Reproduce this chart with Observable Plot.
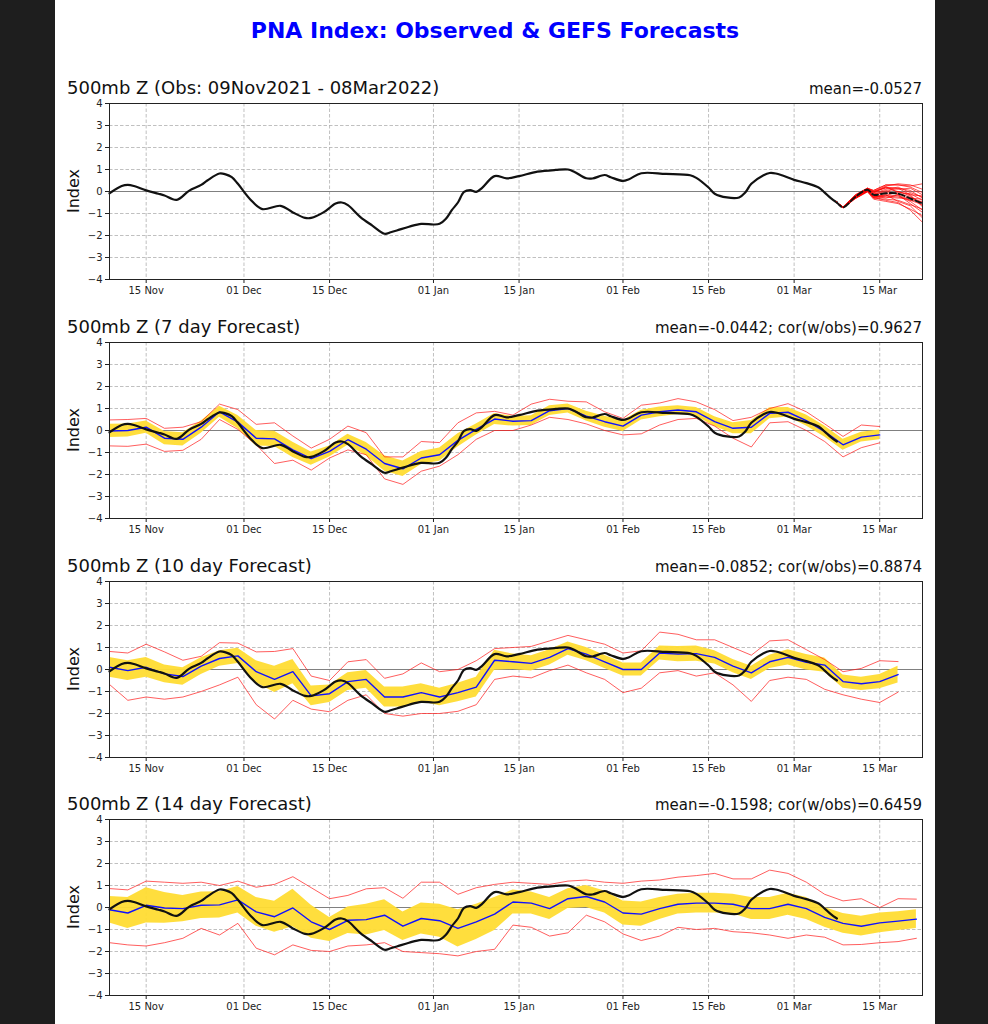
<!DOCTYPE html>
<html><head><meta charset="utf-8">
<script src="https://cdn.jsdelivr.net/npm/d3@7"></script>
<script src="https://cdn.jsdelivr.net/npm/@observablehq/plot@0.6"></script>
<style>
html,body{margin:0;padding:0;background:#1e1e1e;width:988px;height:1024px;overflow:hidden;}
#page{position:absolute;left:55px;top:0;width:880px;height:1024px;background:#fff;overflow:hidden;font-family:"DejaVu Sans",sans-serif;}
.abs{position:absolute;white-space:nowrap;}
</style></head><body><div id="page"></div>
<script>
// ---------------- DATA ----------------
const mainTitle = "PNA Index: Observed & GEFS Forecasts";
const panelTitles = ["500mb Z (Obs: 09Nov2021 - 08Mar2022)", "500mb Z (7 day Forecast)", "500mb Z (10 day Forecast)", "500mb Z (14 day Forecast)"];
const panelStats = ["mean=-0.0527", "mean=-0.0442; cor(w/obs)=0.9627", "mean=-0.0852; cor(w/obs)=0.8874", "mean=-0.1598; cor(w/obs)=0.6459"];

const yTicks = [-4, -3, -2, -1, 0, 1, 2, 3, 4];
const yTickLabels = ["−4", "−3", "−2", "−1", "0", "1", "2", "3", "4"];
const xTickDates = ["2021-11-15", "2021-12-01", "2021-12-15", "2022-01-01", "2022-01-15", "2022-02-01", "2022-02-15", "2022-03-01", "2022-03-15"];
const xTickLabels = ["15 Nov", "01 Dec", "15 Dec", "01 Jan", "15 Jan", "01 Feb", "15 Feb", "01 Mar", "15 Mar"];

// observed PNA index
const obsDates = ["2021-11-09","2021-11-11","2021-11-12","2021-11-13","2021-11-15","2021-11-17","2021-11-18","2021-11-20","2021-11-22","2021-11-24","2021-11-25","2021-11-27","2021-11-28","2021-11-29","2021-11-30","2021-12-02","2021-12-04","2021-12-07","2021-12-09","2021-12-11","2021-12-12","2021-12-14","2021-12-16","2021-12-17","2021-12-18","2021-12-20","2021-12-22","2021-12-24","2021-12-25","2021-12-26","2021-12-28","2021-12-30","2022-01-01","2022-01-02","2022-01-03","2022-01-04","2022-01-05","2022-01-06","2022-01-07","2022-01-08","2022-01-09","2022-01-11","2022-01-13","2022-01-15","2022-01-18","2022-01-21","2022-01-23","2022-01-24","2022-01-26","2022-01-27","2022-01-29","2022-01-30","2022-02-01","2022-02-02","2022-02-04","2022-02-08","2022-02-12","2022-02-13","2022-02-15","2022-02-16","2022-02-18","2022-02-20","2022-02-21","2022-02-22","2022-02-24","2022-02-25","2022-02-26","2022-02-27","2022-03-01","2022-03-03","2022-03-05","2022-03-06","2022-03-07","2022-03-08"];
const obsValues = [-0.08,0.25,0.3,0.25,0.05,-0.1,-0.18,-0.38,0.03,0.3,0.5,0.82,0.78,0.65,0.35,-0.35,-0.8,-0.65,-0.95,-1.2,-1.2,-0.95,-0.55,-0.5,-0.62,-1.15,-1.55,-1.92,-1.85,-1.77,-1.6,-1.47,-1.5,-1.47,-1.25,-0.85,-0.5,-0.02,0.06,-0.02,0.18,0.7,0.6,0.7,0.9,0.98,1.0,0.9,0.6,0.59,0.75,0.65,0.48,0.56,0.83,0.8,0.74,0.62,0.18,-0.1,-0.27,-0.27,-0.05,0.35,0.74,0.84,0.82,0.74,0.53,0.38,0.18,-0.05,-0.3,-0.5];

// GEFS ensemble members (obs panel), starting 08 Mar
const ensDates = ["2022-03-08","2022-03-09","2022-03-11","2022-03-13","2022-03-14","2022-03-16","2022-03-18","2022-03-20","2022-03-22"];
const ensMean = [-0.5,-0.72,-0.25,0.08,-0.15,-0.08,-0.1,-0.32,-0.54];
const ensMembers = [
  [-0.5,-0.7,-0.15,0.15,0.05,0.3,0.3,0.25,0.35],
  [-0.5,-0.74,-0.3,0.0,-0.3,-0.2,0.0,-0.15,-0.2],
  [-0.5,-0.71,-0.2,0.12,-0.05,0.2,0.15,0.05,-0.3],
  [-0.5,-0.73,-0.32,0.02,-0.3,-0.35,-0.4,-0.6,-0.8],
  [-0.5,-0.72,-0.24,0.1,-0.12,0.05,-0.15,-0.4,-0.6],
  [-0.5,-0.75,-0.33,-0.02,-0.35,-0.45,-0.55,-0.8,-1.1],
  [-0.5,-0.7,-0.16,0.16,0.0,0.25,0.35,0.3,0.1],
  [-0.5,-0.73,-0.27,0.05,-0.22,-0.2,-0.25,-0.4,-0.45],
  [-0.5,-0.71,-0.18,0.14,0.05,0.3,0.3,0.2,-0.05],
  [-0.5,-0.74,-0.31,0.0,-0.28,-0.4,-0.5,-0.85,-1.4],
  [-0.5,-0.72,-0.25,0.07,-0.14,-0.05,-0.1,-0.25,-0.5],
  [-0.5,-0.7,-0.2,0.12,0.02,0.15,0.0,-0.2,-0.65],
  [-0.5,-0.75,-0.3,0.02,-0.25,-0.25,-0.3,-0.3,-0.35],
  [-0.5,-0.72,-0.22,0.09,-0.08,0.1,0.2,-0.05,-0.25],
  [-0.5,-0.73,-0.28,0.05,-0.2,-0.3,-0.15,-0.55,-0.95],
  [-0.5,-0.71,-0.19,0.12,-0.02,0.18,0.1,0.15,-0.15],
  [-0.5,-0.74,-0.3,0.03,-0.26,-0.15,-0.45,-0.65,-1.2],
  [-0.5,-0.72,-0.24,0.09,-0.12,0.0,0.15,-0.15,-0.7],
  [-0.5,-0.71,-0.21,0.07,-0.06,0.22,-0.05,-0.1,-0.4],
  [-0.5,-0.73,-0.28,0.04,-0.22,-0.15,-0.2,-0.45,-0.85]
];

// verification dates of forecasts (every 3 days)
const fcDates = ["2021-11-09","2021-11-12","2021-11-15","2021-11-18","2021-11-21","2021-11-24","2021-11-27","2021-11-30","2021-12-03","2021-12-06","2021-12-09","2021-12-12","2021-12-15","2021-12-18","2021-12-21","2021-12-24","2021-12-27","2021-12-30","2022-01-02","2022-01-05","2022-01-08","2022-01-11","2022-01-14","2022-01-17","2022-01-20","2022-01-23","2022-01-26","2022-01-29","2022-02-01","2022-02-04","2022-02-07","2022-02-10","2022-02-13","2022-02-16","2022-02-19","2022-02-22","2022-02-25","2022-02-28","2022-03-03","2022-03-06","2022-03-09","2022-03-12","2022-03-15","2022-03-18","2022-03-21"];

// 7 day forecast
const mean7 = [-0.02,0.0,0.15,-0.35,-0.4,0.15,0.85,0.38,-0.35,-0.38,-0.88,-1.28,-0.95,-0.42,-0.85,-1.5,-1.74,-1.25,-1.1,-0.45,0.05,0.52,0.42,0.45,0.9,1.0,0.65,0.4,0.2,0.7,0.85,0.93,0.85,0.4,0.1,0.15,0.78,0.83,0.45,-0.05,-0.65,-0.3,-0.2];
const spread7 = [0.3,0.3,0.28,0.3,0.3,0.28,0.25,0.3,0.35,0.35,0.35,0.3,0.25,0.25,0.3,0.35,0.35,0.3,0.3,0.3,0.25,0.25,0.22,0.22,0.22,0.2,0.22,0.25,0.25,0.22,0.22,0.2,0.2,0.22,0.25,0.3,0.25,0.22,0.25,0.25,0.25,0.22,0.22];
const max7 = [0.48,0.5,0.55,0.1,0.15,0.4,1.2,0.95,0.28,0.35,-0.25,-0.8,-0.4,0.2,-0.1,-1.2,-1.2,-0.5,-0.55,0.35,0.8,0.87,0.7,1.2,1.42,1.33,1.3,0.85,0.55,1.15,1.25,1.45,1.3,0.95,0.45,0.6,1.0,1.22,0.85,0.3,-0.27,0.25,0.18];
const min7 = [-0.7,-0.72,-0.62,-0.95,-0.9,-0.4,0.5,0.05,-0.65,-1.5,-1.35,-1.8,-1.25,-0.88,-1.1,-2.2,-2.45,-1.85,-1.62,-1.1,-0.4,0.0,0.0,0.25,0.6,0.5,0.3,0.0,-0.2,-0.15,0.25,0.5,0.55,0.2,-0.35,-0.75,0.35,0.4,0.0,-0.5,-1.2,-0.78,-0.56];

// 10 day forecast
const mean10 = [0.1,-0.05,0.1,-0.2,-0.32,0.15,0.5,0.62,-0.1,-0.45,-0.1,-1.2,-1.1,-0.55,-0.45,-1.25,-1.25,-1.05,-1.25,-1.05,-0.8,0.42,0.35,0.28,0.55,0.95,0.7,0.35,0.0,0.0,0.75,0.7,0.72,0.55,0.15,-0.15,0.35,0.55,0.33,0.2,-0.55,-0.65,-0.55,-0.23];
const spread10 = [0.45,0.45,0.45,0.4,0.4,0.38,0.35,0.35,0.5,0.6,0.55,0.45,0.4,0.4,0.4,0.45,0.45,0.4,0.4,0.42,0.45,0.45,0.35,0.35,0.35,0.3,0.3,0.3,0.3,0.3,0.32,0.35,0.35,0.3,0.3,0.3,0.3,0.35,0.35,0.32,0.3,0.3,0.32,0.38];
const max10 = [0.82,0.75,1.15,0.8,0.42,0.6,1.22,1.2,0.8,0.82,0.95,-0.3,-0.5,0.35,0.45,-0.4,-0.2,0.3,-0.1,0.0,0.4,0.95,1.0,1.05,1.3,1.55,1.35,1.15,0.75,0.85,1.7,1.6,1.35,1.35,1.0,0.65,1.3,1.35,0.9,0.45,-0.1,0.05,0.4,0.36];
const min10 = [-0.68,-1.4,-1.25,-1.35,-1.25,-1.0,-0.7,-0.35,-1.6,-2.25,-1.4,-1.8,-1.92,-1.4,-1.15,-2.0,-2.12,-2.0,-2.0,-1.9,-1.6,-0.45,-0.3,-0.38,-0.05,0.2,-0.15,-0.45,-1.05,-0.85,-0.15,-0.05,-0.3,-0.15,-0.7,-1.45,-0.5,-0.35,-0.45,-0.9,-1.15,-1.35,-1.5,-1.03];

// 14 day forecast
const mean14 = [-0.1,-0.25,0.1,-0.02,-0.05,0.1,0.12,0.35,-0.2,-0.42,-0.02,-0.65,-1.0,-0.58,-0.55,-0.35,-0.85,-0.5,-0.6,-0.95,-0.65,-0.3,0.25,0.2,-0.05,0.4,0.5,0.25,-0.25,-0.3,-0.05,0.15,0.2,0.2,0.15,-0.05,-0.05,0.15,-0.05,-0.45,-0.72,-0.85,-0.7,-0.62,-0.53];
const spread14 = [0.6,0.7,0.8,0.7,0.6,0.6,0.6,0.6,0.65,0.7,0.85,0.75,0.55,0.6,0.7,0.7,0.65,0.7,0.75,0.85,0.8,0.75,0.55,0.5,0.5,0.45,0.5,0.5,0.55,0.55,0.5,0.45,0.45,0.45,0.45,0.5,0.5,0.5,0.5,0.45,0.45,0.45,0.45,0.43,0.43];
const max14 = [0.86,0.8,1.2,1.15,1.1,1.15,1.0,1.2,0.92,1.05,1.4,0.9,0.4,0.55,0.85,0.9,0.42,1.15,1.15,0.6,0.9,1.05,1.15,1.1,1.05,1.2,1.25,1.15,1.1,1.2,1.25,1.38,1.45,1.55,1.3,1.3,1.7,1.55,1.15,0.6,0.3,0.4,0.0,0.4,0.38];
const min14 = [-1.6,-1.7,-1.75,-1.6,-1.4,-0.95,-1.25,-0.72,-1.85,-2.15,-1.7,-1.95,-2.0,-1.75,-1.7,-1.6,-2.0,-2.05,-2.1,-2.2,-2.0,-1.9,-0.8,-0.9,-1.3,-1.15,-0.35,-0.65,-1.2,-1.5,-1.3,-0.9,-1.0,-0.95,-1.1,-1.15,-1.25,-1.4,-1.25,-1.35,-1.7,-1.68,-1.6,-1.55,-1.4];

// ---------------- BUILD ----------------
const P = s => new Date(s + "T00:00:00Z");
const X0 = P("2021-11-09"), X1 = P("2022-03-22");
const xTicks = xTickDates.map(P);
const xLab = new Map(xTicks.map((d, i) => [+d, xTickLabels[i]]));
const yLab = new Map(yTicks.map((v, i) => [v, yTickLabels[i]]));
const obsRows = obsDates.map((d, i) => ({date: P(d), v: obsValues[i]}));

const page = document.getElementById("page");
const OFF = 55;
const plotTops = [103, 342, 581, 819];
const MT = 8, MB = 28, PH = 176;

function addText(txt, opts) {
  const el = document.createElement("div");
  el.className = "abs";
  el.textContent = txt;
  Object.assign(el.style, opts);
  page.appendChild(el);
  return el;
}

const YELLOW = "#ffdc33", RED = "#ff1a1a", BLUE = "#1010ff";

function makePlot(marks) {
  return Plot.plot({
    width: 880, height: MT + PH + MB,
    marginLeft: 54, marginRight: 13, marginTop: MT, marginBottom: MB,
    style: {fontFamily: '"DejaVu Sans", sans-serif', fontSize: "10px", color: "#222", background: "transparent", overflow: "visible"},
    x: {type: "utc", domain: [X0, X1]},
    y: {domain: [-4, 4]},
    marks: [
      Plot.ruleY(yTicks.filter(v => v !== 0 && Math.abs(v) !== 4), {stroke: "#b0b0b0", strokeDasharray: "3.5,2", strokeWidth: 0.8}),
      Plot.ruleX(xTicks, {stroke: "#b0b0b0", strokeDasharray: "3.5,2", strokeWidth: 0.8}),
      Plot.ruleY([0], {stroke: "#808080", strokeWidth: 1.2}),
      ...marks,
      Plot.axisX({ticks: xTicks, tickFormat: d => xLab.get(+d), tickSize: 4, tickPadding: 3, label: null}),
      Plot.axisY({ticks: yTicks, tickFormat: d => yLab.get(d), tickSize: 4, tickPadding: 3, label: null}),
      Plot.frame({stroke: "#222", strokeWidth: 1})
    ]
  });
}

function fcMarks(mean, spread, mx, mn) {
  const rows = mean.map((m, i) => ({date: P(fcDates[i]), m, s: spread[i], hi: mx[i], lo: mn[i]}));
  return [
    Plot.areaY(rows, {x: "date", y1: d => d.m - d.s, y2: d => d.m + d.s, fill: YELLOW, fillOpacity: 0.95}),
    Plot.line(rows, {x: "date", y: "hi", stroke: RED, strokeOpacity: 0.7, strokeWidth: 1}),
    Plot.line(rows, {x: "date", y: "lo", stroke: RED, strokeOpacity: 0.7, strokeWidth: 1}),
    Plot.line(rows, {x: "date", y: "m", stroke: BLUE, strokeWidth: 1.4}),
    Plot.line(obsRows, {x: "date", y: "v", stroke: "#111", strokeWidth: 2.2, curve: "catmull-rom"})
  ];
}

const ensRows = [];
ensMembers.forEach((vals, k) => vals.forEach((v, i) => ensRows.push({member: k, date: P(ensDates[i]), v})));
const ensMeanRows = ensMean.map((v, i) => ({date: P(ensDates[i]), v}));

const panelMarks = [
  [
    Plot.line(obsRows, {x: "date", y: "v", stroke: "#111", strokeWidth: 2.2, curve: "catmull-rom"}),
    Plot.line(ensRows, {x: "date", y: "v", z: "member", stroke: "#ff0000", strokeOpacity: 0.75, strokeWidth: 0.9}),
    Plot.line(ensMeanRows, {x: "date", y: "v", stroke: "#111", strokeWidth: 2, strokeDasharray: "6,3", curve: "catmull-rom"})
  ],
  fcMarks(mean7, spread7, max7, min7),
  fcMarks(mean10, spread10, max10, min10),
  fcMarks(mean14, spread14, max14, min14)
];

// main title
addText(mainTitle, {left: "0px", width: "880px", textAlign: "center", top: "20px", fontSize: "22px", lineHeight: "22px", fontWeight: "bold", color: "#0000ff"});

plotTops.forEach((top, k) => {
  const svg = makePlot(panelMarks[k]);
  svg.style.position = "absolute";
  svg.style.left = "0px";
  svg.style.top = (top - MT) + "px";
  page.appendChild(svg);
  const base = top - 9;
  addText(panelTitles[k], {left: (67 - OFF) + "px", top: (base - 0.846 * 18) + "px", fontSize: "18px", lineHeight: "18px", color: "#111"});
  addText(panelStats[k], {right: "13px", top: (base + 1 - 0.846 * 15) + "px", fontSize: "15px", lineHeight: "15px", color: "#111"});
  addText("Index", {left: (74 - OFF) + "px", top: (top + PH / 2) + "px", fontSize: "16px", lineHeight: "16px", color: "#111", transform: "translate(-50%,-50%) rotate(-90deg)"});
});
</script></body></html>
